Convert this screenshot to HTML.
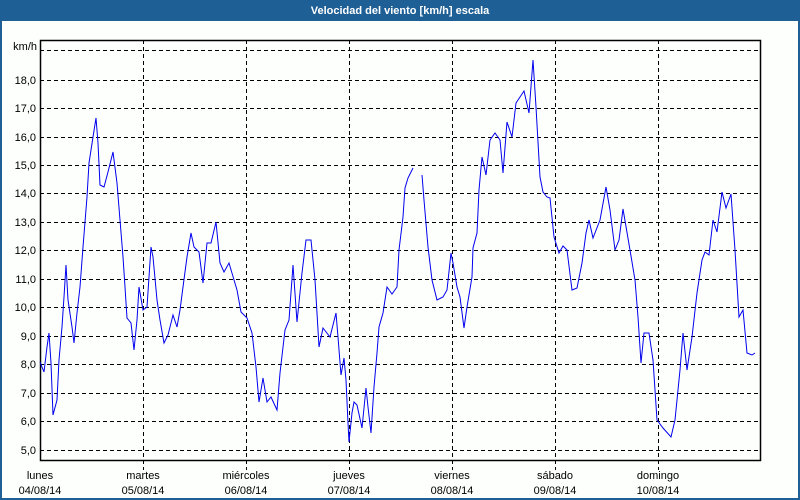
<!DOCTYPE html>
<html><head><meta charset="utf-8"><style>
html,body{margin:0;padding:0;background:#fff;}
body{width:800px;height:500px;overflow:hidden;position:relative;font-family:"Liberation Sans",sans-serif;}
</style></head><body>
<svg width="800" height="500" xmlns="http://www.w3.org/2000/svg" style="position:absolute;left:0;top:0">
<rect x="0" y="0" width="800" height="500" fill="#1e5f96"/>
<rect x="2" y="21" width="796" height="477" fill="#fdfffd"/>
<text x="400" y="14" fill="#fff" font-size="11" font-weight="bold" text-anchor="middle" font-family="Liberation Sans, sans-serif">Velocidad del viento [km/h] escala</text>
<g stroke="#000" stroke-width="1" stroke-dasharray="4,3" fill="none">
<path d="M40 50.5H760M40 80.5H760M40 108.5H760M40 137.5H760M40 165.5H760M40 193.5H760M40 222.5H760M40 250.5H760M40 279.5H760M40 307.5H760M40 336.5H760M40 364.5H760M40 393.5H760M40 421.5H760M40 450.5H760"/>
<path d="M143.5 40V470M246.5 40V470M349.5 40V470M452.5 40V470M555.5 40V470M658.5 40V470"/>
</g>
<rect x="40.5" y="40.5" width="720" height="420" fill="none" stroke="#000" stroke-width="1.5"/>
<g font-size="11" fill="#000" text-anchor="end" font-family="Liberation Sans, sans-serif">
<text x="37" y="50">km/h</text>
<text x="36" y="84">18,0</text><text x="36" y="112">17,0</text><text x="36" y="141">16,0</text>
<text x="36" y="169">15,0</text><text x="36" y="197">14,0</text><text x="36" y="226">13,0</text>
<text x="36" y="254">12,0</text><text x="36" y="283">11,0</text><text x="36" y="311">10,0</text>
<text x="36" y="340">9,0</text><text x="36" y="368">8,0</text><text x="36" y="397">7,0</text>
<text x="36" y="425">6,0</text><text x="36" y="454">5,0</text>
</g>
<g font-size="11" fill="#000" text-anchor="middle" font-family="Liberation Sans, sans-serif">
<text x="40" y="479">lunes</text><text x="40" y="494">04/08/14</text>
<text x="143" y="479">martes</text><text x="143" y="494">05/08/14</text>
<text x="246" y="479">miércoles</text><text x="246" y="494">06/08/14</text>
<text x="349" y="479">jueves</text><text x="349" y="494">07/08/14</text>
<text x="452" y="479">viernes</text><text x="452" y="494">08/08/14</text>
<text x="555" y="479">sábado</text><text x="555" y="494">09/08/14</text>
<text x="658" y="479">domingo</text><text x="658" y="494">10/08/14</text>
</g>
<polyline fill="none" stroke="#0000ee" stroke-width="1" points="40,362 44,372 47,347 49,333 51,363 53,415 57,400 59,360 62,327 64,297 66,265 68,300 72,327 74,343 77,313 80,287 83,247 87,197 89,163 93,137 96,118 98,143 100,185 104,187 108,172 113,152 117,183 120,220 123,257 125,287 127,318 131,323 134,350 137,320 139,287 143,310 147,307 151,247 153,257 157,300 160,320 164,343 168,335 173,315 177,327 180,310 183,287 187,257 191,233 194,247 199,252 203,283 207,243 211,243 216,222 220,263 224,272 229,263 237,290 241,312 247,318 252,333 256,367 259,402 263,378 267,402 271,397 277,410 280,373 285,330 289,320 293,265 297,322 302,273 306,240 311,240 315,280 317,313 319,347 323,328 330,337 336,313 338,337 341,375 344,358 346,380 348,423 349,442 352,413 354,402 357,405 362,428 366,388 368,407 371,433 374,387 377,353 379,327 383,313 387,287 392,294 397,287 399,250 403,217 405,188 408,178 413,168"/>
<polyline fill="none" stroke="#0000ee" stroke-width="1" points="422,175 424,200 428,247 432,280 437,300 443,297 447,290 451,253 453,263 457,287 460,297 464,328 467,307 472,277 473,248 477,233 479,190 482,157 486,175 490,140 495,133 500,140 503,173 507,122 512,137 516,103 524,91 529,113 533,60 536,107 540,177 543,192 547,197 550,198 554,237 559,253 563,246 567,250 572,290 577,288 582,263 586,233 589,220 593,238 600,220 606,187 610,210 615,250 619,240 623,209 630,250 635,280 638,317 641,363 644,333 649,333 653,360 657,420 663,428 671,437 675,420 680,370 683,333 687,370 692,337 697,293 702,260 705,252 709,255 713,220 717,232 722,192 726,208 731,194 735,250 739,317 743,310 747,353 752,355 755,353"/>
</svg>
</body></html>
